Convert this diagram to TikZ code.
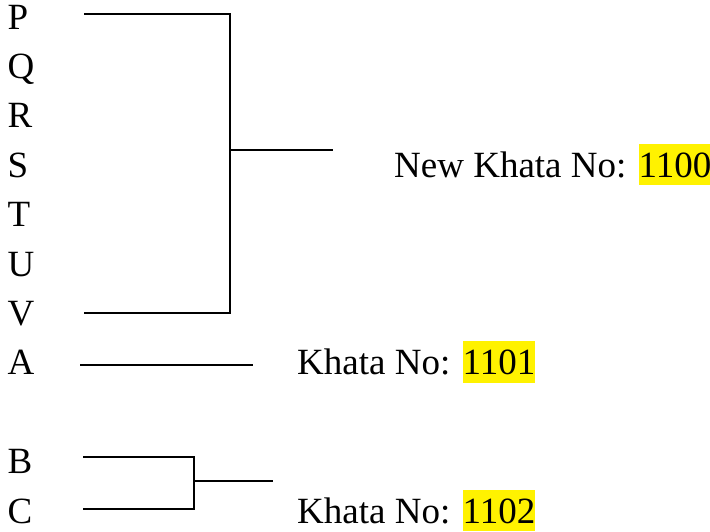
\documentclass[tikz,border=0pt]{standalone}
\usepackage{fontspec}
\setmainfont{Liberation Serif}
\newcommand{\hlnum}[1]{{\setlength{\fboxsep}{0pt}\colorbox{yellow}{\rule[-8pt]{0pt}{41.5pt}#1}}}
\begin{document}
\begin{tikzpicture}[x=1pt,y=-1pt,
  lbl/.style={anchor=base west,inner sep=0pt,font=\fontsize{37}{40}\selectfont},
  conn/.style={line width=1.8pt,line cap=butt}]
\useasboundingbox (0,0) rectangle (710,531);
% letters
\node[lbl] (P) at (7.5,29) {P};
\node[lbl] (Q) at (7.5,78.4) {Q};
\node[lbl] (R) at (7.5,127.8) {R};
\node[lbl] (S) at (7.5,177.2) {S};
\node[lbl] (T) at (7.5,226.6) {T};
\node[lbl] (U) at (7.5,276) {U};
\node[lbl] (V) at (7.5,325.4) {V};
\node[lbl] (A) at (7.5,374.8) {A};
\node[lbl] (B) at (7.5,473.6) {B};
\node[lbl] (C) at (7.5,523) {C};
% labels
\node[lbl] (k1100) at (394,177.2) {New Khata No: \hlnum{1100}};
\node[lbl] (k1101) at (297,374.8) {Khata No: \hlnum{1101}};
\node[lbl] (k1102) at (297,523) {Khata No: \hlnum{1102}};
% bracket P..V
\coordinate (p1) at (84,14.3);
\coordinate (p2) at (230,14.3);
\coordinate (v1) at (84,313);
\coordinate (v2) at (230,313);
\coordinate (m1) at (230,150);
\coordinate (m2) at (333,150);
\draw[conn] (p1) -- (p2) -- (v2) -- (v1);
\draw[conn] (m1) -- (m2);
% A line
\coordinate (a1) at (80,365);
\coordinate (a2) at (253,365);
\draw[conn] (a1) -- (a2);
% bracket B,C
\coordinate (b1) at (83,457.3);
\coordinate (b2) at (194,457.3);
\coordinate (c1) at (83,509);
\coordinate (c2) at (194,509);
\coordinate (n1) at (194,481);
\coordinate (n2) at (273,481);
\draw[conn] (b1) -- (b2) -- (c2) -- (c1);
\draw[conn] (n1) -- (n2);
\end{tikzpicture}
\end{document}
